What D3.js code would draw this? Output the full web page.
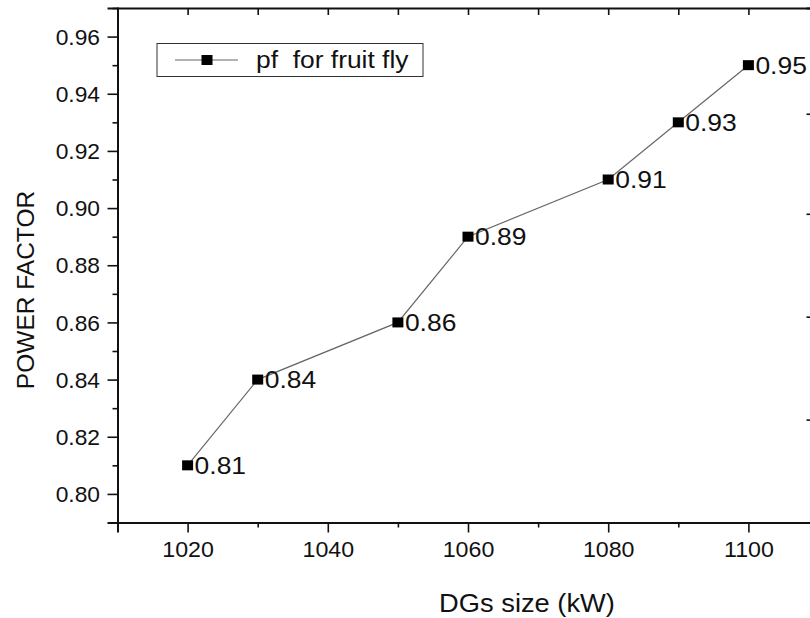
<!DOCTYPE html>
<html>
<head>
<meta charset="utf-8">
<script src="https://cdn.jsdelivr.net/npm/d3@7"></script>
<style>
  html, body { margin: 0; padding: 0; background: #fff; }
  svg { display: block; }
  text { font-family: "Liberation Sans", Arial, sans-serif; fill: #111; }
</style>
</head>
<body>
<svg id="chart" width="810" height="618"></svg>
<script>
// ---- data ----
const dgSizes = [1020, 1030, 1050, 1060, 1080, 1090, 1100];
const powerFactor = [0.81, 0.84, 0.86, 0.89, 0.91, 0.93, 0.95];
const pointLabels = ["0.81", "0.84", "0.86", "0.89", "0.91", "0.93", "0.95"];
const xTicks = [1020, 1040, 1060, 1080, 1100];
const xMinorTicks = [1010, 1030, 1050, 1070, 1090, 1110];
const yTicks = [0.80, 0.82, 0.84, 0.86, 0.88, 0.90, 0.92, 0.94, 0.96];
const yMinorTicks = [0.79, 0.81, 0.83, 0.85, 0.87, 0.89, 0.91, 0.93, 0.95, 0.97];
const rightAxisTicks = [0.933, 0.898, 0.862, 0.826];
const seriesName = "pf  for fruit fly";
const xTitle = "DGs size (kW)";
const yTitle = "POWER FACTOR";

// ---- layout ----
const svg = d3.select("#chart");
const pLeft = 117.5, pRight = 818.5, pTop = 8, pBottom = 522.5;
const x = d3.scaleLinear().domain([1010, 1110]).range([pLeft, pRight]);
const y = d3.scaleLinear().domain([0.79, 0.97]).range([pBottom, pTop]);

const axisStyle = g => {
  g.selectAll(".domain").attr("stroke", "#111").attr("stroke-width", 2);
  g.selectAll(".tick line").attr("stroke", "#111").attr("stroke-width", 1.6);
};

// bottom axis major
const gx = svg.append("g").attr("transform", `translate(0,${pBottom})`)
  .call(d3.axisBottom(x).tickValues(xTicks).tickSize(10).tickPadding(9).tickFormat(d3.format("d")));
axisStyle(gx);
gx.selectAll(".tick text").attr("font-size", 21.5)
  .attr("font-family", "Liberation Sans, Arial, sans-serif").attr("fill", "#111")
  .attr("transform", "scale(1.08,1)");
// bottom minor
const gxm = svg.append("g").attr("transform", `translate(0,${pBottom})`)
  .call(d3.axisBottom(x).tickValues(xMinorTicks).tickSize(5).tickFormat(""));
axisStyle(gxm); gxm.select(".domain").remove();

// top axis (inward ticks)
const gt = svg.append("g").attr("transform", `translate(0,${pTop})`)
  .call(d3.axisTop(x).tickValues(xTicks.concat(xMinorTicks)).tickSize(-7).tickFormat(""));
axisStyle(gt);

// left axis major
const gy = svg.append("g").attr("transform", `translate(${pLeft},0)`)
  .call(d3.axisLeft(y).tickValues(yTicks).tickSize(10).tickPadding(7).tickFormat(d3.format(".2f")));
axisStyle(gy);
gy.selectAll(".tick text").attr("font-size", 21.5)
  .attr("font-family", "Liberation Sans, Arial, sans-serif").attr("fill", "#111")
  .attr("dy", "0.36em").attr("transform", "scale(1.06,1)").attr("x", -16.5);
// left minor
const gym = svg.append("g").attr("transform", `translate(${pLeft},0)`)
  .call(d3.axisLeft(y).tickValues(yMinorTicks).tickSize(5).tickFormat(""));
axisStyle(gym); gym.select(".domain").remove();

// right axis (mostly off-canvas)
const gr = svg.append("g").attr("transform", `translate(${pRight},0)`)
  .call(d3.axisRight(y).tickValues(rightAxisTicks).tickSize(-12).tickFormat(""));
axisStyle(gr);

// ---- series ----
const pts = dgSizes.map((d, i) => ({ x: d, y: powerFactor[i], label: pointLabels[i] }));
const line = d3.line().x(d => x(d.x)).y(d => y(d.y));
svg.append("path").datum(pts)
  .attr("d", line).attr("fill", "none").attr("stroke", "#666").attr("stroke-width", 1.2);

svg.selectAll("rect.mk").data(pts).enter().append("rect").attr("class", "mk")
  .attr("x", d => x(d.x) - 5.5).attr("y", d => y(d.y) - 5)
  .attr("width", 11).attr("height", 10).attr("fill", "#000");

svg.selectAll("text.lbl").data(pts).enter().append("text").attr("class", "lbl")
  .attr("transform", d => `translate(${x(d.x) + 7},${y(d.y) + 8.5}) scale(1.15,1)`)
  .attr("font-size", 23)
  .text(d => d.label);

// ---- legend ----
const lg = svg.append("g");
lg.append("rect").attr("x", 157).attr("y", 43.5).attr("width", 266).attr("height", 33)
  .attr("fill", "#fff").attr("stroke", "#333").attr("stroke-width", 1);
lg.append("line").attr("x1", 175).attr("x2", 238).attr("y1", 60).attr("y2", 60)
  .attr("stroke", "#666").attr("stroke-width", 1.2);
lg.append("rect").attr("x", 207 - 5.5).attr("y", 55).attr("width", 11).attr("height", 10).attr("fill", "#000");
lg.append("text").attr("transform", "translate(256,68) scale(1.1,1)")
  .attr("font-size", 24).style("white-space", "pre").text(seriesName);

// ---- titles ----
svg.append("text").attr("transform", "translate(527,612) scale(1.05,1)").attr("text-anchor", "middle")
  .attr("font-size", 26).text(xTitle);
svg.append("text").attr("transform", "translate(34,290) rotate(-90)")
  .attr("text-anchor", "middle").attr("font-size", 24.5).text(yTitle);
</script>
</body>
</html>
